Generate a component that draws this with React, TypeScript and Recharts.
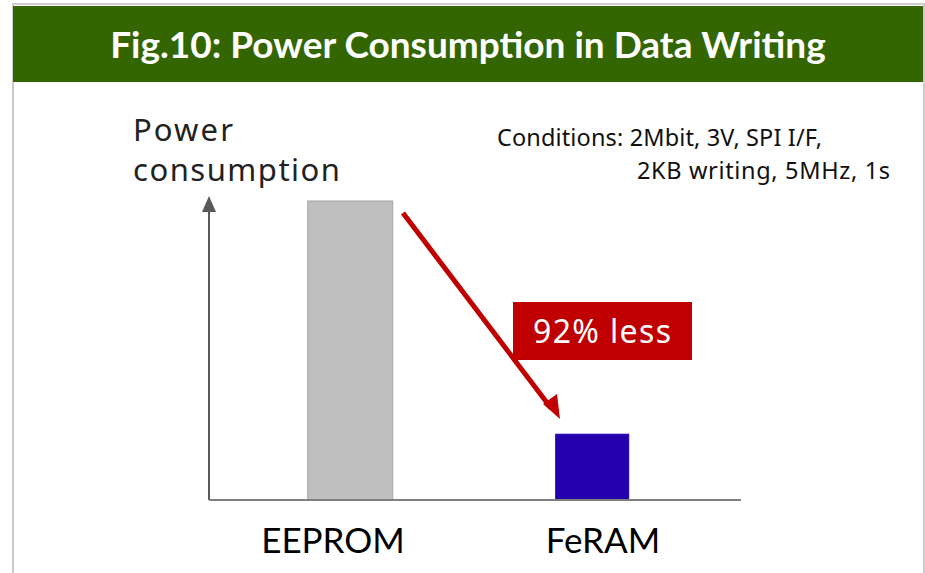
import React from 'react';
import { BarChart, Bar, XAxis, YAxis } from 'recharts';

// relative power consumption (EEPROM = 100)
const categories = ['EEPROM', 'FeRAM'];
const powerValues = [100, 22];
const barColors = ['#bfbfbf', '#2400ac'];
const barStrokes = ['#a5a5a5', '#2400ac'];
const barWidths = [85, 73];
const tickShift = [-17, 11];

const data = categories.map((name, i) => ({ name, power: powerValues[i] }));

const FONT = '"Noto Sans", Lato, sans-serif';
const TITLE_FONT = 'Lato, "Noto Sans", sans-serif';

const BarShape = (props: any) => {
  const { x, y, width, height, payload } = props;
  const i = categories.indexOf(payload.name);
  const w = barWidths[i];
  return (
    <rect
      x={x + (width - w) / 2}
      y={y}
      width={w}
      height={height}
      fill={barColors[i]}
      stroke={barStrokes[i]}
      strokeWidth={1}
    />
  );
};

const CategoryTick = (props: any) => {
  const { x, y, payload } = props;
  const i = categories.indexOf(payload.value);
  return (
    <text x={x + tickShift[i]} y={y + 45} textAnchor="middle" fontFamily={TITLE_FONT} fontSize={35} fill="#000">
      {payload.value}
    </text>
  );
};

export default function App() {
  return (
    <div style={{ position: 'absolute', left: 0, top: 0, width: 925, height: 573, background: '#fff' }}>
      {/* frame + header */}
      <div style={{ position: 'absolute', left: 12, top: 3, width: 913, height: 580, border: '2px solid #cccccc', boxSizing: 'border-box' }} />
      <div
        style={{
          position: 'absolute', left: 13, top: 6, width: 910, height: 76, background: '#336600',
          color: '#fff', fontFamily: TITLE_FONT, fontWeight: 700, fontSize: 37, lineHeight: '76px', textAlign: 'center',
        }}
      >
        Fig.10: Power Consumption in Data Writing
      </div>

      <div style={{ position: 'absolute', left: 0, top: 0 }}>
        <BarChart width={925} height={573} data={data} margin={{ top: 198, left: 199, right: 184, bottom: 13 }}>
          <YAxis
            domain={[0, 101]}
            width={10}
            tick={false}
            tickLine={false}
            axisLine={{ stroke: '#595959', strokeWidth: 2 }}
          />
          <XAxis
            dataKey="name"
            height={60}
            padding={{ left: 20, right: 28 }}
            tickLine={false}
            axisLine={{ stroke: '#7f7f7f', strokeWidth: 2 }}
            tick={<CategoryTick />}
            interval={0}
          />
          <Bar dataKey="power" shape={<BarShape />} isAnimationActive={false} />
        </BarChart>
      </div>

      {/* annotations */}
      <svg width={925} height={573} style={{ position: 'absolute', left: 0, top: 0 }}>
        <polygon points="209,196 202,212 216,212" fill="#595959" />
        <text x={133} y={141} fontFamily={FONT} fontSize={31} fill="#222" textLength={100}>Power</text>
        <text x={133} y={181} fontFamily={FONT} fontSize={31} fill="#222" textLength={207}>consumption</text>
        <text x={497} y={146} fontFamily={FONT} fontSize={23.5} fill="#111" textLength={325}>Conditions: 2Mbit, 3V, SPI I/F,</text>
        <text x={637} y={179} fontFamily={FONT} fontSize={23.5} fill="#111" textLength={253}>2KB writing, 5MHz, 1s</text>
        <line x1={403} y1={213} x2={551} y2={408} stroke="#c00000" strokeWidth={5} />
        <polygon points="560,419 543,404 557,394" fill="#c00000" />
        <rect x={513} y={302} width={179} height={58} fill="#c00000" />
        <text x={602} y={343} textAnchor="middle" fontFamily={FONT} fontSize={32} fill="#fff" textLength={138}>92% less</text>
      </svg>
    </div>
  );
}
